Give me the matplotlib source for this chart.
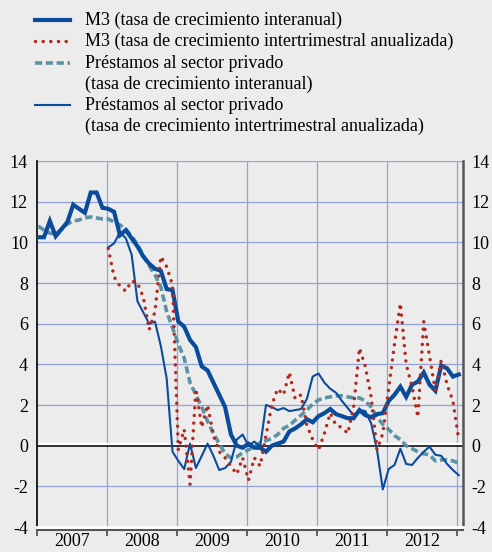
import numpy as np
import matplotlib.pyplot as plt
from matplotlib.lines import Line2D

plt.rcParams['font.family'] = ['Liberation Serif', 'DejaVu Serif']
plt.rcParams['axes.unicode_minus'] = False

# monthly data, Jan 2007 - Dec 2012
m3_interanual = [10.25, 10.25, 11.05, 10.3, 10.65, 11.0, 11.85, 11.65, 11.45, 12.45, 12.45, 11.7,
                 11.65, 11.5, 10.35, 10.6, 10.2, 9.8, 9.3, 8.95, 8.7, 8.6, 7.7, 7.65,
                 6.1, 5.85, 5.2, 4.85, 3.9, 3.7, 3.1, 2.5, 1.9, 0.55, 0.0, -0.1,
                 0.1, -0.1, -0.1, -0.3, 0.0, 0.1, 0.2, 0.7, 0.85, 1.05, 1.3, 1.15,
                 1.45, 1.6, 1.8, 1.55, 1.45, 1.35, 1.35, 1.75, 1.5, 1.4, 1.55, 1.6,
                 2.2, 2.5, 2.9, 2.4, 3.0, 3.15, 3.6, 3.0, 2.7, 3.95, 3.8, 3.4, 3.5]
prestamos_interanual = [10.8, 10.6, 10.45, 10.4, 10.65, 10.9, 11.05, 11.1, 11.2, 11.25, 11.2, 11.15,
                        11.15, 11.0, 10.85, 10.65, 10.3, 9.9, 9.35, 8.85, 8.4, 7.8, 6.6, 5.8,
                        5.0, 4.3, 3.1, 2.5, 1.9, 1.2, 0.6, 0.1, -0.4, -0.6, -0.55, -0.35,
                        -0.2, -0.05, 0.15, 0.25, 0.35, 0.55, 0.85, 1.0, 1.25, 1.5, 1.75, 2.05,
                        2.25, 2.35, 2.4, 2.45, 2.45, 2.4, 2.35, 2.35, 2.2, 1.9, 1.4, 1.05,
                        0.8, 0.5, 0.3, 0.0, -0.15, -0.3, -0.4, -0.45, -0.75, -0.7, -0.7, -0.75, -0.85]
# quarter-on-quarter annualised series start in Jan 2008
m3_intertrimestral = [9.7, 8.3, 7.85, 7.6, 8.1, 8.0, 7.3, 5.7, 6.6, 9.3, 8.8, 7.9,
                      -0.2, 0.8, -1.9, 2.8, 0.9, 2.0, 0.5, -0.3, -0.6, -1.0, -1.4, -0.6,
                      -1.7, -0.6, -1.0, 0.5, 2.0, 2.8, 2.5, 3.6, 2.3, 2.5, 1.0, 0.3,
                      -0.2, 0.6, 1.6, 1.0, 0.9, 0.6, 1.9, 4.8, 3.9, 2.4, -0.2, 0.6,
                      2.8, 5.0, 7.0, 4.0, 2.9, 1.4, 6.1, 4.4, 2.7, 4.2, 3.0, 2.2, 0.3]
prestamos_intertrimestral = [9.75, 9.95, 10.5, 10.2, 9.4, 7.1, 6.55, 6.0, 6.1, 4.9, 3.3, -0.3,
                             -0.75, -1.15, 0.1, -1.1, -0.5, 0.1, -0.5, -1.2, -1.1, -0.8, 0.3, 0.55,
                             0.0, 0.2, -0.05, 2.0, 1.9, 1.75, 1.85, 1.7, 1.75, 1.8, 2.3, 3.4,
                             3.55, 3.1, 2.8, 2.6, 2.2, 1.85, 1.5, 1.75, 1.7, 1.1, -0.2, -2.15,
                             -1.15, -0.95, -0.15, -0.9, -0.95, -0.6, -0.3, -0.05, -0.45, -0.5, -0.9, -1.2, -1.45]
years = ['2007', '2008', '2009', '2010', '2011', '2012']
labels = ['M3 (tasa de crecimiento interanual)',
          'M3 (tasa de crecimiento intertrimestral anualizada)',
          'Préstamos al sector privado\n(tasa de crecimiento interanual)',
          'Préstamos al sector privado\n(tasa de crecimiento intertrimestral anualizada)']

bg = '#ececec'
blue = '#0a4c9c'
red = '#b3281f'
teal = '#5a93a4'
grid = '#93a3d8'
fs = 13

t = 2007 + (np.arange(len(m3_interanual)) + 0.25) / 12
t2 = t[12:]

fig = plt.figure(figsize=(4.92, 5.52), dpi=100, facecolor=bg)
ax = fig.add_axes([36.7 / 492, 1 - 527 / 552, 426 / 492, 366 / 552], facecolor=bg)

styles = [
    dict(color=blue, lw=3.0, solid_joinstyle='miter'),
    dict(color=red, lw=2.5, linestyle=(0, (0.01, 2.2)), dash_capstyle='round'),
    dict(color=teal, lw=2.6, linestyle=(0, (2, 1))),
    dict(color=blue, lw=1.5),
]

ax.plot(t, prestamos_interanual, zorder=3, **styles[2])
ax.plot(t2, prestamos_intertrimestral, zorder=4, **styles[3])
ax.plot(t, m3_interanual, zorder=5, **styles[0])
ax.plot(t2, m3_intertrimestral, zorder=6, **styles[1])

ax.axhline(0.07, color='white', lw=1.6, zorder=2)
ax.axhline(0, color='black', lw=1.1, zorder=2)

ax.set_xlim(2007, 2007 + 426 / 70.1)
ax.set_ylim(-4, 14)

for yv in range(-2, 15, 2):
    if yv != 0:
        ax.axhline(yv, color=grid, lw=0.9, zorder=1)
for yr in range(2008, 2014):
    ax.axvline(yr, color=grid, lw=0.9, zorder=1)

ax.set_yticks(range(-4, 15, 2))
ax.tick_params(axis='y', length=0, labelsize=fs, pad=6.3)

ax_r = ax.secondary_yaxis('right')
ax_r.set_yticks(range(-4, 15, 2))
ax_r.tick_params(length=0, labelsize=fs, pad=6.5)
ax_r.spines['right'].set_visible(False)

ax.set_xticks(range(2007, 2014))
ax.set_xticklabels([])
ax.set_xticks([int(y) + 0.5 for y in years], minor=True)
ax.set_xticklabels(years, minor=True)
ax.tick_params(axis='x', which='major', length=4, width=1.3, color='#555555', direction='out')
ax.tick_params(axis='x', which='minor', length=0, labelsize=fs, pad=2.5)

ax.spines['top'].set_visible(False)
ax.spines['left'].set_color('black')
ax.spines['left'].set_linewidth(1.2)
ax.spines['right'].set_color('#555555')
ax.spines['right'].set_linewidth(1.8)
ax.spines['bottom'].set_color('#555555')
ax.spines['bottom'].set_linewidth(1.5)
ax.spines['bottom'].set_position(('outward', 2))
ax.axhline(-4, color='white', lw=2, zorder=7, clip_on=False)

# legend drawn by hand so handles line up with the first line of each label
rows = [20, 41.5, 63, 105]
for y_px, kw, lab in zip(rows, styles, labels):
    yf = 1 - y_px / 552
    fig.add_artist(Line2D([35 / 492, 70 / 492], [yf, yf], **kw))
    for i, line in enumerate(lab.split('\n')):
        fig.text(85 / 492, 1 - (y_px + i * 21) / 552, line, fontsize=fs, va='center', ha='left')

fig.savefig('out.png', dpi=100, facecolor=bg)
